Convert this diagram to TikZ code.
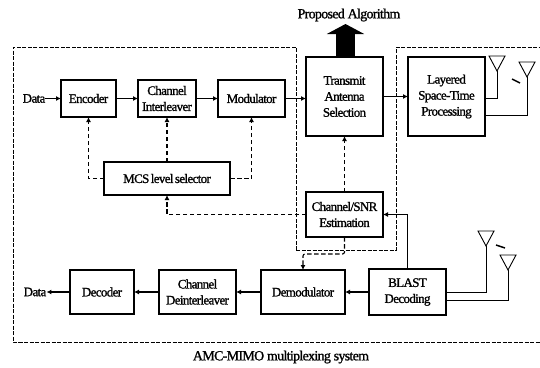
\documentclass[tikz,border=0pt]{standalone}
\usepackage{fontspec}
\setmainfont{Liberation Serif}[LetterSpace=-5,FakeBold=1.2]
\usetikzlibrary{arrows.meta,positioning,calc}
\tikzset{
  blockbox/.style={draw=black,line width=1.8pt,fill=white,align=center,inner sep=0pt,outer sep=0pt,font=\fontsize{13}{16}\selectfont},
  lbl/.style={inner sep=0pt,font=\fontsize{13}{15}\selectfont},
  ar/.style={-{Latex[length=5pt,width=5pt]},draw=black,line width=1.1pt},
  dar/.style={ar,dash pattern=on 4.5pt off 2.5pt},
  wire/.style={draw=black,line width=1pt},
  ant/.style={draw=black,line width=0.9pt},
  frame/.style={draw=black,line width=0.85pt,dash pattern=on 4pt off 1.5pt},
}
\begin{document}
\begin{tikzpicture}[x=1pt,y=-1pt]
    \useasboundingbox (0,0) rectangle (540,367);
    % top row
    \node[blockbox,minimum width=55pt,minimum height=37pt] (encoder) at (88.5,98.5) {Encoder};
    \node[blockbox,minimum width=58pt,minimum height=37pt,right=22pt of encoder] (interleaver) {Channel\\Interleaver};
    \node[blockbox,minimum width=67pt,minimum height=37pt,right=22pt of interleaver] (modulator) {Modulator};
    \node[blockbox,minimum width=77pt,minimum height=79pt] (transmit) at (344.5,96.5) {Transmit\\Antenna\\Selection};
    \node[blockbox,minimum width=77pt,minimum height=79pt,right=25pt of transmit] (layered) {Layered\\Space-Time\\Processing};
    \node[blockbox,minimum width=126pt,minimum height=33pt] (mcs) at (167,178.5) {\spaceskip=1.5pt MCS level selector};
    \node[blockbox,minimum width=77pt,minimum height=45pt] (estimation) at (344.5,214.5) {Channel/SNR\\Estimation};
    % bottom row
    \node[blockbox,minimum width=77pt,minimum height=46pt] (blast) at (407.5,292) {BLAST\\Decoding};
    \node[blockbox,minimum width=84pt,minimum height=44pt,left=24pt of blast] (demod) {Demodulator};
    \node[blockbox,minimum width=77pt,minimum height=44pt,left=25pt of demod] (deinter) {Channel\\Deinterleaver};
    \node[blockbox,minimum width=64pt,minimum height=44pt,left=25pt of deinter] (decoder) {Decoder};
    \node[lbl] (datain) at (34,98.5) {Data};
    \node[lbl] (dataout) at (35,292) {Data};
    \node[lbl,font=\fontsize{14}{16}\selectfont] (algo) at (349,15) {Proposed Algorithm};
    \node[lbl,font=\fontsize{14}{16}\selectfont] (sysname) at (281,357) {AMC-MIMO multiplexing system};
    % dashed frames
    \draw[frame] (296,250) -- (296,47) -- (13,47) -- (13,342) -- (540,342);
    \draw[frame] (296,250) -- (396,250) -- (396,47) -- (540,47);
    % data path
    \draw[ar] (datain) -- (encoder);
    \draw[ar] (encoder) -- (interleaver);
    \draw[ar] (interleaver) -- (modulator);
    \draw[ar] (modulator.east) -- (transmit.west |- modulator.east);
    \draw[ar] (transmit) -- (layered);
    \draw[ar] (blast.west) -- (demod.east |- blast.west);
    \draw[ar] (demod) -- (deinter);
    \draw[ar] (deinter) -- (decoder);
    \draw[ar] (decoder) -- (dataout);
    \draw[ar] (blast.north) |- (estimation.east);
    % control path
    \draw[dar] (mcs.west) -| (encoder.south);
    \draw[dar] (mcs.north -| interleaver.south) -- (interleaver.south);
    \draw[dar] (mcs.east) -| (modulator.south);
    \draw[dar] (estimation.north) -- (transmit.south);
    \draw[dar] (estimation.west) -| (mcs.south);
    \coordinate (feedback) at (303,254);
    \draw[dar,rounded corners=2pt] (estimation.south) |- (feedback) -- (demod.north);
    % proposed algorithm
    \coordinate (algotip) at (345.5,24);
    \draw[draw=black,line width=19pt,-{Triangle[length=10pt,width=37pt]}] (algotip |- transmit.north) -- (algotip);
    % antennas
    \foreach \name/\ax/\ay in {txa/497/71,txb/527/77,rxa/486/246,rxb/508/270}{
      \coordinate (\name) at (\ax,\ay);
      \draw[ant] (\name) -- ++(-8,-15) -- ++(16,0) -- cycle;
    }
    \draw[wire] ([yshift=-1.5pt]layered.east) -| (txa);
    \draw[wire] ([yshift=-18.5pt]layered.east) -| (txb);
    \draw[wire] (blast.east) -| (rxa);
    \draw[wire] ([yshift=-8pt]blast.east) -| (rxb);
    \coordinate (txdots) at (516,81);
    \coordinate (rxdots) at (500.5,246.5);
    \draw[line width=1.5pt] ($(txdots)+(-4,-2)$) -- ($(txdots)+(4,2)$);
    \draw[line width=1.5pt] ($(rxdots)+(-4.5,-1.5)$) -- ($(rxdots)+(4.5,1.5)$);
\end{tikzpicture}
\end{document}
